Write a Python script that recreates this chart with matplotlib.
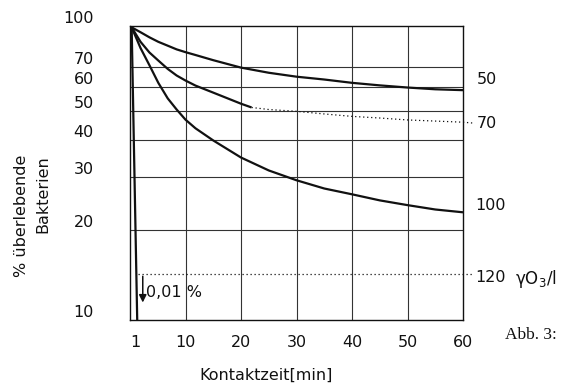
import matplotlib
matplotlib.use("Agg")
import matplotlib.pyplot as plt
from matplotlib.ticker import NullFormatter, NullLocator
from matplotlib.transforms import ScaledTranslation

# ---------------- data ----------------
x_c50 = [0.3, 1.9, 3.5, 5.1, 6.8, 8.4, 10, 11.8, 15, 20, 25, 30, 35, 40, 45, 50, 55, 60]
y_c50 = [95, 91.5, 88, 85, 82.5, 80.2, 78.5, 76.8, 73.8, 69.7, 67, 65, 63.6, 62, 60.8, 59.8, 59, 58.6]

x_c70 = [0.3, 1.9, 3.5, 5.1, 6.8, 8.4, 10, 11.8, 15, 20, 21.9]
y_c70 = [95, 85, 78.3, 73.6, 69, 65.6, 63.1, 60.7, 57.5, 52.8, 51.3]
x_c70_dot = [21.9, 25, 30, 35, 40, 45, 50, 55, 60, 61.8]
y_c70_dot = [51.3, 50.5, 49.8, 48.8, 47.9, 47.3, 46.6, 46.2, 45.8, 45.5]

x_c100 = [0.3, 1.9, 3.5, 5.1, 6.8, 8.4, 10, 11.8, 15, 20, 25, 30, 35, 40, 45, 50, 55, 60]
y_c100 = [95, 81, 71, 62, 55, 50.5, 46.7, 43.7, 39.8, 34.9, 31.6, 29.3, 27.5, 26.3, 25.1, 24.2, 23.4, 22.9]

x_c120 = [0.3, 1.3]
y_c120 = [95, 10]
x_c120_dot = [1.4, 61.8]
y_c120_dot = [14.3, 14.3]

arrow_x = 2.3
arrow_from, arrow_to = 14.3, 11.2
note_xy = (2.8, 12.4)
note_text = "0,01 %"

x_ticks = [1, 10, 20, 30, 40, 50, 60]
x_ticklabels = ["1", "10", "20", "30", "40", "50", "60"]
x_grid = [10, 20, 30, 40, 50]
Y_BOTTOM, Y_TOP = 10, 96
y_ticks = [10, 20, 30, 40, 50, 60, 70, Y_TOP]
y_ticklabels = ["10", "20", "30", "40", "50", "60", "70", "100"]
y_grid = [20, 30, 40, 50, 60, 70]

curve_labels = ["50", "70", "100", "120"]
unit_label = "γO$_3$/l"
xlabel = "Kontaktzeit[min]"
ylabel = "% überlebende\nBakterien"
caption = "Abb. 3:"

# ---------------- figure ----------------
W, H = 573, 390
fig = plt.figure(figsize=(W / 100, H / 100), dpi=100)
L, R, T, B = 130, 463, 26, 320
ax = fig.add_axes([L / W, 1 - B / H, (R - L) / W, (B - T) / H])
ax.set_yscale("log")
ax.set_xlim(0, 60)
ax.set_ylim(Y_BOTTOM, Y_TOP)

ink = "#111111"
for s in ax.spines.values():
    s.set_color(ink)
    s.set_linewidth(1.0)

FS = 11.5
ax.set_xticks(x_ticks, x_ticklabels)
ax.set_yticks(y_ticks, y_ticklabels)
ax.yaxis.set_minor_locator(NullLocator())
ax.yaxis.set_minor_formatter(NullFormatter())
ax.tick_params(which="both", length=0)
ax.tick_params(axis="x", pad=11, labelsize=FS, colors=ink)
ax.tick_params(axis="y", pad=26, labelsize=FS, colors=ink)

for gx in x_grid:
    ax.axvline(gx, color="#333333", lw=0.8, zorder=1)
for gy in y_grid:
    ax.axhline(gy, color="#333333", lw=0.8, zorder=1)

off = ScaledTranslation(0, 9 / 100, fig.dpi_scale_trans)
for lab in ax.get_yticklabels():
    lab.set_transform(lab.get_transform() + off)

lw = 1.6
ax.plot(x_c50, y_c50, color=ink, lw=lw, solid_capstyle="butt", zorder=3)
ax.plot(x_c70, y_c70, color=ink, lw=lw, solid_capstyle="butt", zorder=3)
ax.plot(x_c70_dot, y_c70_dot, color=ink, lw=0.9, ls=(0, (1, 2.2)), clip_on=False, zorder=3)
ax.plot(x_c100, y_c100, color=ink, lw=lw, solid_capstyle="butt", zorder=3)
ax.plot(x_c120, y_c120, color=ink, lw=lw, zorder=3)
ax.plot(x_c120_dot, y_c120_dot, color=ink, lw=0.9, ls=(0, (1, 2.2)), clip_on=False, zorder=3)

ax.annotate("", xy=(arrow_x, arrow_to), xytext=(arrow_x, arrow_from),
            arrowprops=dict(arrowstyle="-|>", lw=1.1, color=ink, mutation_scale=11))
ax.text(note_xy[0], note_xy[1], note_text, fontsize=FS, color=ink, ha="left", va="center")

# labels at the right side
def ftext(px, py, s, **kw):
    fig.text(px / W, 1 - py / H, s, **kw)

ftext(477, 80, curve_labels[0], fontsize=FS, color=ink, va="center")
ftext(477, 124, curve_labels[1], fontsize=FS, color=ink, va="center")
ftext(475, 205, curve_labels[2], fontsize=FS, color=ink, va="center")
ftext(475, 277, curve_labels[3], fontsize=FS, color=ink, va="center")
ftext(515, 279, unit_label, fontsize=12, color=ink, va="center")
ftext(505, 335, caption, fontsize=12.5, color=ink, va="center", family="Liberation Serif")

ax.set_xlabel(xlabel, fontsize=FS, color=ink, va="center")
ax.xaxis.set_label_coords((266 - L) / (R - L), -(375 - B) / (B - T))
ftext(32, 155, ylabel, fontsize=FS, color=ink, rotation=90, ha="center", va="top",
      multialignment="right", linespacing=1.5)

fig.savefig("out.png", dpi=100)
